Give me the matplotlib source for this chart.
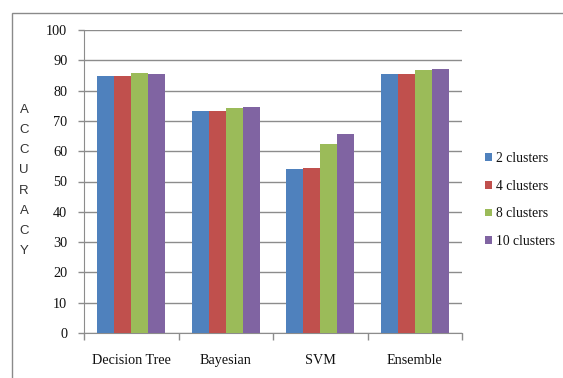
import matplotlib
matplotlib.use("Agg")
import matplotlib.pyplot as plt
import numpy as np
from matplotlib.patches import Patch, Rectangle

categories = ["Decision Tree", "Bayesian", "SVM", "Ensemble"]
series_names = ["2 clusters", "4 clusters", "8 clusters", "10 clusters"]
c2 = [84.8, 73.3, 54.0, 85.5]
c4 = [84.8, 73.3, 54.6, 85.5]
c8 = [85.7, 74.2, 62.4, 86.7]
c10 = [85.4, 74.5, 65.7, 87.0]
series = [c2, c4, c8, c10]
colors = ["#4F81BD", "#C0504D", "#9BBB59", "#8064A2"]
yticks = [0, 10, 20, 30, 40, 50, 60, 70, 80, 90, 100]

W, H = 563, 378
fig = plt.figure(figsize=(W / 100, H / 100), dpi=100)
fig.patch.set_facecolor("white")

# outer frame
fig.add_artist(Rectangle((12 / W, -0.1), 1.2, 1 - 13 / H + 0.1, transform=fig.transFigure,
                         fill=False, edgecolor="#8a8a8a", linewidth=1.0))

left, right, top, bottom = 84, 462, 30, 333
ax = fig.add_axes([left / W, 1 - bottom / H, (right - left) / W, (bottom - top) / H])

x = np.arange(len(categories))
bw = 0.72 / 4
for i, (vals, col, name) in enumerate(zip(series, colors, series_names)):
    ax.bar(x - 0.36 + bw * (i + 0.5), vals, width=bw, color=col, label=name, zorder=3,
           edgecolor="none")

ax.set_xlim(-0.5, len(categories) - 0.5)
ax.set_ylim(0, 100)
ax.set_yticks(yticks)
ax.set_yticklabels([str(v) for v in yticks], fontfamily="Liberation Serif", fontsize=10.3,
                   color="#111111")
ax.yaxis.grid(True, color="#8c8c8c", linewidth=1.0, zorder=0)
ax.set_axisbelow(True)

ax.set_xticks(x)
ax.set_xticklabels(categories, fontfamily="Liberation Serif", fontsize=10.2, color="#111111")
ax.tick_params(axis="x", length=0, pad=15)
ax.set_xticks(np.arange(-0.5, len(categories), 1.0), minor=True)
ax.tick_params(axis="x", which="minor", length=5, color="#8c8c8c", width=1)
ax.tick_params(axis="y", length=4, color="#8c8c8c", width=1, pad=8)

for s in ["top", "right"]:
    ax.spines[s].set_visible(False)
ax.spines["left"].set_color("#8c8c8c")
ax.spines["bottom"].set_color("#8c8c8c")

# vertical stacked y label
fig.text(24 / W, 1 - 180.5 / H, "\n".join("ACCURACY"), ha="center", va="center",
         fontfamily="Liberation Sans", fontsize=9.5, linespacing=1.91, color="#333333")

handles = [Patch(facecolor=c, edgecolor="none") for c in colors]
leg = fig.legend(handles, series_names, loc="center left",
                 bbox_to_anchor=(478 / W, 1 - 200 / H), frameon=False,
                 prop={"family": "Liberation Serif", "size": 9.8},
                 handlelength=0.5, handleheight=0.5, handletextpad=0.3,
                 labelspacing=1.08, borderpad=0)
for t in leg.get_texts():
    t.set_color("#111111")

fig.savefig("out.png", dpi=100, facecolor="white")
